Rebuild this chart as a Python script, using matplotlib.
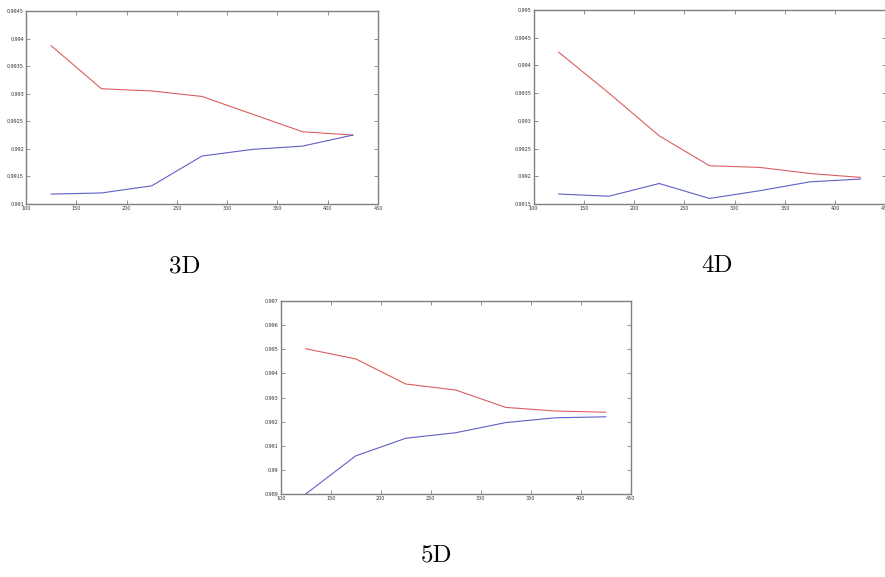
import matplotlib
matplotlib.use("Agg")
import matplotlib.pyplot as plt

x = [125, 175, 225, 275, 325, 375, 425]

# 3D
red_3d = [0.99387, 0.99309, 0.99305, 0.99295, 0.99263, 0.99231, 0.99225]
blue_3d = [0.99118, 0.99120, 0.99133, 0.99187, 0.99199, 0.99205, 0.99225]
# 4D
red_4d = [0.99424, 0.99350, 0.99273, 0.99219, 0.99216, 0.99205, 0.99198]
blue_4d = [0.99168, 0.99164, 0.99187, 0.99160, 0.99174, 0.99190, 0.99195]
# 5D
red_5d = [0.99502, 0.99460, 0.99356, 0.99331, 0.99259, 0.99244, 0.99239]
blue_5d = [0.98900, 0.99058, 0.99131, 0.99154, 0.99196, 0.99216, 0.99220]

xticks = [100, 150, 200, 250, 300, 350, 400, 450]
yticks_3d = [0.991, 0.9915, 0.992, 0.9925, 0.993, 0.9935, 0.994, 0.9945]
yticks_4d = [0.9915, 0.992, 0.9925, 0.993, 0.9935, 0.994, 0.9945, 0.995]
yticks_5d = [0.989, 0.99, 0.991, 0.992, 0.993, 0.994, 0.995, 0.996, 0.997]

RED = "#d95f5f"
BLUE = "#5f5fc8"
GREY = "#7f7f7f"


def panel(rect, red, blue, yticks, caption, cap_xy):
    ax = fig.add_axes(rect)
    ax.plot(x, red, color=RED, lw=0.8)
    ax.plot(x, blue, color=BLUE, lw=0.8)
    ax.set_xlim(100, 450)
    ax.set_ylim(yticks[0], yticks[-1])
    ax.set_xticks(xticks)
    ax.set_yticks(yticks)
    ax.set_xticklabels([str(t) for t in xticks])
    ax.set_yticklabels(["%g" % t for t in yticks])
    ax.tick_params(direction="in", length=3, width=0.6, colors=GREY,
                   labelsize=3.5, labelcolor="#333333", pad=1.5,
                   top=True, right=True)
    for s in ax.spines.values():
        s.set_color(GREY)
        s.set_linewidth(1.0)
    fig.text(cap_xy[0] / 885, 1 - cap_xy[1] / 577, caption,
             fontfamily="cmr10", fontsize=18, ha="center", va="center")
    return ax


fig = plt.figure(figsize=(8.85, 5.77), dpi=100)
panel([26 / 885, 1 - 204 / 577, 352 / 885, 193 / 577],
      red_3d, blue_3d, yticks_3d, "3D", (185, 266))
panel([533.5 / 885, 1 - 204 / 577, 352 / 885, 194 / 577],
      red_4d, blue_4d, yticks_4d, "4D", (717, 266))
panel([280.7 / 885, 1 - 494 / 577, 350 / 885, 193 / 577],
      red_5d, blue_5d, yticks_5d, "5D", (437, 555))

fig.savefig("out.png", dpi=100)
